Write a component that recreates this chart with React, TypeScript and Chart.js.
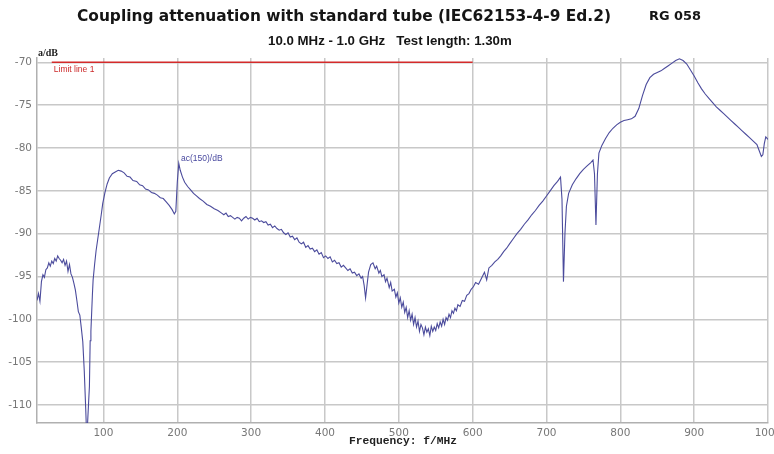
import React, { useEffect, useRef } from "react";
import { Chart, registerables } from "chart.js";

Chart.register(...registerables);

const titleText = "Coupling attenuation with standard tube (IEC62153-4-9 Ed.2)";
const titleCode = "RG 058";
const subtitleText = "10.0 MHz - 1.0 GHz   Test length: 1.30m";
const yAxisLabel = "a/dB";
const xAxisLabel = "Frequency: f/MHz";
const limitLabel = "Limit line 1";
const traceLabel = "ac(150)/dB";

const xTicks = [100, 200, 300, 400, 500, 600, 700, 800, 900, 1000];
const yTicks = [-110, -105, -100, -95, -90, -85, -80, -75, -70];

const limitFreq = [30, 600];
const limitLevel = [-70, -70];

// [frequency MHz, attenuation dB]
const attenuation: [number, number][] = [
  [10,-97.8],[12,-97.0],[14,-97.9],[16,-95.6],[18,-94.8],[20,-95.1],[22,-94.2],[24,-94.0],[26,-93.4],[28,-93.8],
  [30,-93.2],[32,-93.5],[34,-92.9],[36,-93.2],[38,-92.6],[40,-92.9],[42,-93.1],[44,-93.4],[46,-93.0],[48,-93.7],
  [50,-93.2],[52,-94.4],[54,-93.6],[56,-94.7],[58,-95.1],[60,-95.8],[62,-96.6],[64,-97.8],[66,-99.1],[68,-99.5],
  [70,-101.0],[72,-102.6],[74,-106.0],[76,-110.5],[77,-113.0],[78,-113.0],[80,-109.5],[81,-107.8],[82,-102.5],[83,-101.4],
  [85,-97.2],[86,-95.4],[88,-93.6],[90,-92.0],[92,-90.8],[94,-89.6],[97,-87.8],[99,-86.5],[102,-85.2],[105,-84.2],
  [108,-83.5],[112,-83.0],[116,-82.8],[120,-82.6],[124,-82.7],[128,-82.9],[132,-83.3],[136,-83.4],[140,-83.8],[145,-83.9],
  [149,-84.3],[153,-84.4],[157,-84.8],[161,-84.9],[165,-85.2],[169,-85.3],[173,-85.5],[177,-85.8],[181,-85.9],[185,-86.3],
  [189,-86.7],[193,-87.2],[196,-87.7],[198,-87.4],[200,-84.0],[202,-81.8],[204,-82.6],[207,-83.4],[210,-84.0],[214,-84.5],
  [218,-84.9],[222,-85.3],[226,-85.6],[230,-85.9],[235,-86.2],[240,-86.6],[245,-86.8],[250,-87.1],[255,-87.3],[260,-87.6],
  [263,-87.8],[266,-87.6],[269,-88.0],[272,-87.9],[275,-88.1],[278,-88.3],[281,-88.1],[284,-88.2],[287,-88.5],[290,-88.2],
  [293,-88.0],[296,-88.3],[299,-88.1],[302,-88.2],[305,-88.4],[308,-88.2],[311,-88.6],[314,-88.5],[317,-88.7],[320,-88.6],
  [323,-89.0],[326,-88.9],[329,-89.3],[332,-89.1],[335,-89.4],[338,-89.6],[341,-89.5],[344,-89.9],[347,-90.1],[350,-89.9],
  [353,-90.4],[356,-90.3],[359,-90.7],[362,-90.5],[365,-91.0],[368,-91.2],[371,-91.0],[374,-91.6],[377,-91.4],[380,-91.8],
  [383,-91.7],[386,-92.1],[389,-91.9],[392,-92.4],[395,-92.2],[398,-92.8],[401,-92.6],[404,-92.9],[407,-92.7],[410,-93.3],
  [413,-93.1],[416,-93.5],[419,-93.4],[422,-93.9],[425,-93.7],[428,-94.0],[431,-94.3],[434,-94.1],[437,-94.6],[440,-94.5],
  [443,-94.9],[446,-94.7],[449,-95.2],[451,-95.0],[453,-96.0],[455,-97.5],[457,-96.0],[459,-94.5],[462,-93.6],[465,-93.4],
  [468,-94.1],[470,-93.8],[473,-94.6],[475,-94.3],[477,-95.0],[480,-94.8],[482,-95.6],[484,-95.2],[487,-96.3],[489,-95.7],
  [491,-96.7],[494,-96.5],[496,-97.4],[498,-96.9],[500,-98.1],[502,-97.5],[504,-98.6],[506,-98.0],[508,-99.2],[510,-98.6],
  [512,-99.8],[514,-99.0],[516,-100.1],[518,-99.4],[520,-100.6],[522,-99.8],[524,-100.9],[526,-100.2],[528,-101.4],[530,-100.6],
  [532,-101.0],[534,-101.8],[536,-100.9],[538,-101.5],[540,-101.1],[542,-101.9],[544,-100.8],[546,-101.4],[548,-100.9],[550,-101.3],
  [552,-100.5],[554,-101.0],[556,-100.3],[558,-100.8],[560,-100.0],[562,-100.6],[564,-99.8],[566,-100.1],[568,-99.4],[570,-99.8],
  [572,-99.0],[574,-99.3],[576,-98.7],[578,-99.0],[580,-98.3],[583,-98.5],[586,-97.8],[589,-97.9],[592,-97.2],[595,-97.0],
  [598,-96.5],[601,-96.2],[604,-95.7],[608,-95.9],[612,-95.2],[616,-94.5],[619,-95.4],[622,-94.0],[626,-93.7],[630,-93.3],
  [634,-93.0],[638,-92.6],[642,-92.1],[646,-91.7],[650,-91.2],[655,-90.6],[660,-90.0],[665,-89.5],[670,-88.9],[675,-88.4],
  [680,-87.8],[685,-87.3],[690,-86.7],[695,-86.2],[700,-85.6],[705,-85.0],[710,-84.4],[715,-83.9],[719,-83.4],[721,-86.0],
  [723,-95.6],[725,-90.0],[727,-86.8],[730,-85.3],[735,-84.3],[740,-83.6],[745,-83.0],[750,-82.5],[755,-82.1],[760,-81.7],
  [763,-81.4],[765,-83.0],[767,-89.0],[769,-83.0],[771,-80.6],[775,-79.7],[780,-78.9],[785,-78.2],[790,-77.7],[795,-77.3],
  [800,-77.0],[805,-76.8],[810,-76.7],[815,-76.6],[820,-76.3],[825,-75.4],[830,-73.9],[835,-72.6],[840,-71.8],[845,-71.4],
  [850,-71.2],[855,-71.0],[860,-70.7],[865,-70.4],[870,-70.1],[875,-69.8],[880,-69.6],[885,-69.8],[890,-70.2],[895,-70.9],
  [900,-71.6],[905,-72.4],[910,-73.1],[915,-73.7],[920,-74.2],[925,-74.7],[930,-75.2],[935,-75.6],[940,-76.0],[945,-76.4],
  [950,-76.8],[955,-77.2],[960,-77.6],[965,-78.0],[970,-78.4],[975,-78.8],[980,-79.2],[985,-79.6],[988,-80.3],[991,-81.0],
  [993,-80.8],[995,-79.5],[997,-78.7],[1000,-79.0],
];

function fitText(
  ctx: CanvasRenderingContext2D,
  text: string,
  weight: string,
  family: string,
  targetWidth: number,
  x: number,
  y: number
) {
  ctx.font = `${weight} 20px ${family}`;
  const w = ctx.measureText(text).width;
  const size = (20 * targetWidth) / w;
  ctx.font = `${weight} ${size.toFixed(2)}px ${family}`;
  ctx.fillText(text, x, y);
}

const textPlugin = {
  id: "texts",
  afterDraw(chart: any) {
    const ctx = chart.ctx as CanvasRenderingContext2D;
    const xs = chart.scales.x;
    const ys = chart.scales.y;
    ctx.save();
    ctx.textBaseline = "middle";
    ctx.textAlign = "left";
    ctx.fillStyle = "#151515";
    fitText(ctx, titleText, "bold", "'DejaVu Sans', sans-serif", 534, 77, 17);
    fitText(ctx, titleCode, "bold", "'DejaVu Sans', sans-serif", 52, 649, 17);
    fitText(ctx, subtitleText, "bold", "'Liberation Sans', Arial, sans-serif", 244, 268, 41);
    ctx.fillStyle = "#222";
    ctx.font = "bold 10px 'Liberation Serif', serif";
    ctx.fillText(yAxisLabel, 38, 53);
    fitText(ctx, xAxisLabel, "bold", "'Liberation Mono', monospace", 108, 349, 441);
    ctx.font = "8.5px 'Liberation Sans', Arial, sans-serif";
    ctx.fillStyle = "#cc2a2a";
    ctx.fillText(limitLabel, xs.getPixelForValue(30) + 2, ys.getPixelForValue(-70) + 7);
    ctx.fillStyle = "#4a4aa0";
    ctx.fillText(traceLabel, xs.getPixelForValue(205), ys.getPixelForValue(-81.2));
    ctx.restore();
  },
};

export default function App() {
  const canvasRef = useRef<HTMLCanvasElement | null>(null);

  useEffect(() => {
    document.body.style.margin = "0";
    const canvas = canvasRef.current;
    if (!canvas) return;
    const chart = new Chart(canvas, {
      type: "line",
      data: {
        datasets: [
          {
            label: "attenuation",
            data: attenuation.map(([x, y]) => ({ x, y })),
            borderColor: "#4b4b9c",
            borderWidth: 1.1,
            pointRadius: 0,
            tension: 0,
            fill: false,
          },
          {
            label: "limit",
            data: limitFreq.map((x, i) => ({ x, y: limitLevel[i] })),
            borderColor: "#d42a2a",
            borderWidth: 1.6,
            pointRadius: 0,
            fill: false,
          },
        ],
      },
      plugins: [textPlugin],
      options: {
        responsive: false,
        animation: false,
        events: [],
        layout: { padding: { top: 58, right: 6, left: 0, bottom: 0 } },
        plugins: {
          legend: { display: false },
          title: { display: false },
          tooltip: { enabled: false },
        },
        scales: {
          x: {
            type: "linear",
            min: 10,
            max: 1000,
            afterBuildTicks: (s: any) => {
              s.ticks = xTicks.map((v) => ({ value: v }));
            },
            afterFit: (s: any) => {
              s.height = 31;
              s.paddingLeft = 0;
              s.paddingRight = 0;
            },
            grid: { color: "#c8c8c8", lineWidth: 1.5, drawTicks: false },
            border: { color: "#b0b0b0", width: 1.5 },
            ticks: {
              padding: 4,
              maxRotation: 0,
              autoSkip: false,
              color: "#777",
              font: { family: "'DejaVu Sans', sans-serif", size: 10.5 },
              callback: (v: any) => String(v),
            },
          },
          y: {
            type: "linear",
            min: -112.1,
            max: -69.5,
            afterBuildTicks: (s: any) => {
              s.ticks = yTicks.map((v) => ({ value: v }));
            },
            afterFit: (s: any) => {
              s.width = 37;
              s.paddingTop = 0;
              s.paddingBottom = 0;
            },
            grid: { color: "#c8c8c8", lineWidth: 1.5, drawTicks: false },
            border: { color: "#b0b0b0", width: 1.5 },
            ticks: {
              padding: 5,
              color: "#777",
              font: { family: "'DejaVu Sans', sans-serif", size: 10.5 },
              callback: (v: any) => String(v),
            },
          },
        },
      },
    });
    return () => chart.destroy();
  }, []);

  return (
    <div style={{ width: 774, height: 454, background: "#fff" }}>
      <canvas ref={canvasRef} width={774} height={454} style={{ display: "block" }} />
    </div>
  );
}
